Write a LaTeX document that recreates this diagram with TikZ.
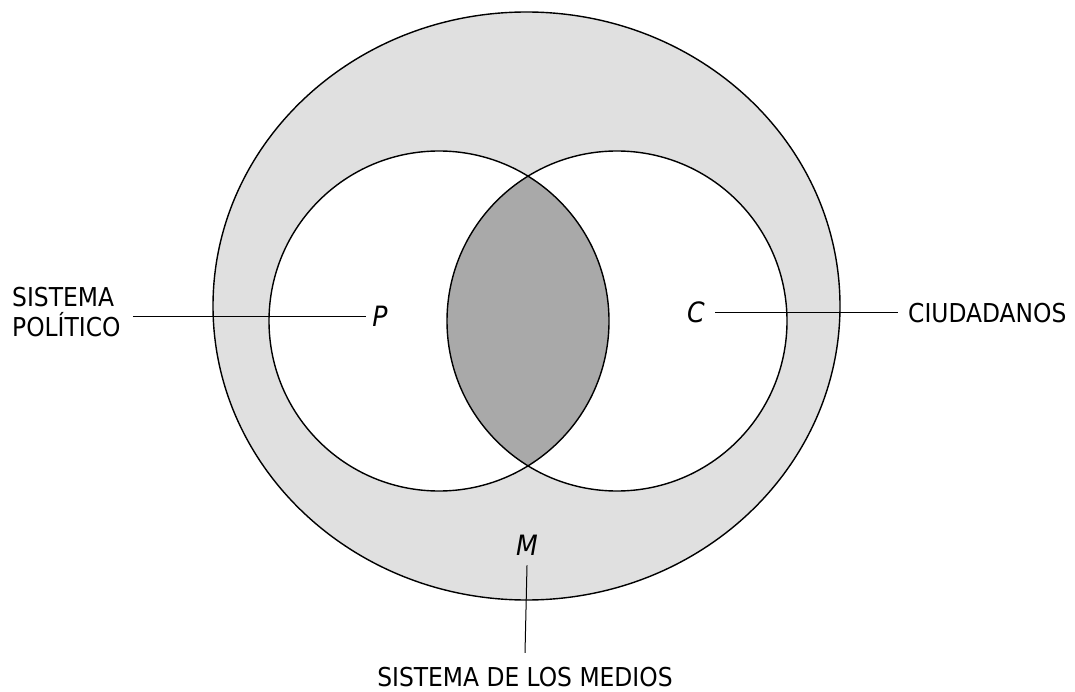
\documentclass[tikz,border=0pt]{standalone}
\usepackage{fontspec}
\setmainfont{DejaVu Sans Condensed}
\usetikzlibrary{positioning}

\definecolor{outergray}{HTML}{E0E0E0}
\definecolor{lensgray}{HTML}{A9A9A9}

\begin{document}
\begin{tikzpicture}[
    x=1pt, y=-1pt,
    ring/.style={draw=black, line width=1.4pt},
    lbl/.style={font=\fontsize{26}{30}\selectfont, inner sep=2pt},
    var/.style={font=\fontsize{28}{30}\selectfont\itshape, inner sep=8pt},
    lead/.style={draw=black, line width=1pt}
]
\useasboundingbox (0,0) rectangle (1075,692);
% --- centres ---
\coordinate (mc) at (526.5,306);
\coordinate (pc) at (439,321);
\coordinate (cc) at (617,321);

% --- sistema de los medios ---
\fill[outergray] (mc) ellipse [x radius=313.5, y radius=294];
\fill[white] (pc) circle [radius=170];
\fill[white] (cc) circle [radius=170];
\begin{scope}
  \clip (pc) circle [radius=170];
  \fill[lensgray] (cc) circle [radius=170];
\end{scope}
\draw[ring] (mc) ellipse [x radius=313.5, y radius=294];
\draw[ring] (pc) circle [radius=170];
\draw[ring] (cc) circle [radius=170];

% --- labels ---
\node[lbl, align=left, anchor=west] (pol) at (10,312) {SISTEMA\\POLÍTICO};
\node[var, inner sep=6pt] (p) at (380,316) {P};
\node[var, inner sep=10pt] (c) at (696,312) {C};
\node[lbl, anchor=west] (ciu) at (906,313) {CIUDADANOS};
\node[var, inner sep=10pt] (m) at (527,545) {M};
\node[lbl] (med) at (525,677) {SISTEMA DE LOS MEDIOS};

\draw[lead] ([xshift=10pt]pol.east |- p.west) -- (p.west);
\draw[lead] (c.east) -- ([xshift=-8pt]ciu.west |- c.east);
\draw[lead] (m.south) -- ([yshift=12pt]med.north);
\end{tikzpicture}
\end{document}
